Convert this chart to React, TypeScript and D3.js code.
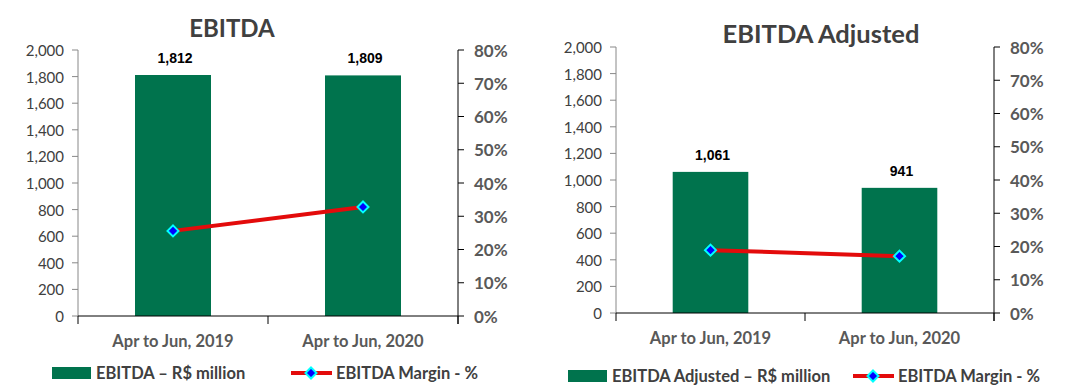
import React from "react";
import * as d3 from "d3";

const categories = ["Apr to Jun, 2019", "Apr to Jun, 2020"];
const ebitdaValues = [1812, 1809];
const ebitdaMargin = [25.6, 32.8];
const ebitdaAdjValues = [1061, 941];
const ebitdaAdjMargin = [18.9, 17.1];
const valueTicks = [0, 200, 400, 600, 800, 1000, 1200, 1400, 1600, 1800, 2000];
const pctTicks = [0, 10, 20, 30, 40, 50, 60, 70, 80];

const GREEN = "#00734D";
const RED = "#E30B0B";
const FONT = "Lato, 'Open Sans', sans-serif";
const NUMFONT = "'Liberation Sans', Arial, sans-serif";

type ChartProps = {
  title: string;
  titleSize: number;
  values: number[];
  margins: number[];
  barLegend: string;
  lineLegend: string;
  x0: number;
  x1: number;
  yTop: number;
  yBottom: number;
  titleX: number;
  titleY: number;
  legendY: number;
  legendBarX: number;
  legendLineX: number;
};

function Chart(p: ChartProps) {
  const xScale = d3
    .scaleBand<string>()
    .domain(categories)
    .range([p.x0, p.x1])
    .paddingInner(0.6)
    .paddingOuter(0.3);
  const yScale = d3.scaleLinear().domain([0, 2000]).range([p.yBottom, p.yTop]);
  const pScale = d3.scaleLinear().domain([0, 80]).range([p.yBottom, p.yTop]);
  const fmt = d3.format(",");
  const bw = xScale.bandwidth();
  const cx = (c: string) => (xScale(c) as number) + bw / 2;
  const line = d3
    .line<number>()
    .x((_, i) => cx(categories[i]))
    .y((d) => pScale(d));
  const step = xScale.step();
  const diamond = (x: number, y: number, r: number) =>
    `M${x},${y - r}L${x + r},${y}L${x},${y + r}L${x - r},${y}Z`;

  return (
    <g>
      <text
        x={p.titleX}
        y={p.titleY}
        textAnchor="middle"
        dominantBaseline="central"
        fontFamily={FONT}
        fontWeight="bold"
        fontSize={p.titleSize}
        fill="#404040"
      >
        {p.title}
      </text>
      {/* left axis */}
      <line x1={p.x0} x2={p.x0} y1={p.yTop} y2={p.yBottom} stroke="#888" strokeWidth={1} />
      {valueTicks.map((t) => (
        <g key={"l" + t}>
          <line x1={p.x0 - 6} x2={p.x0} y1={yScale(t)} y2={yScale(t)} stroke="#888" />
          <text
            x={p.x0 - 14}
            y={yScale(t)}
            textAnchor="end"
            dominantBaseline="central"
            fontFamily={FONT}
            fontSize={15}
            fill="#404040"
          >
            {fmt(t)}
          </text>
        </g>
      ))}
      {/* right axis */}
      <line x1={p.x1} x2={p.x1} y1={p.yTop} y2={p.yBottom + 8} stroke="#000" strokeWidth={1} />
      {pctTicks.map((t) => (
        <g key={"r" + t}>
          <line x1={p.x1} x2={p.x1 + 6} y1={pScale(t)} y2={pScale(t)} stroke="#000" />
          <text
            x={p.x1 + 16}
            y={pScale(t)}
            textAnchor="start"
            dominantBaseline="central"
            fontFamily={FONT}
            fontWeight="bold"
            fontSize={17}
            fill="#595959"
          >
            {t + "%"}
          </text>
        </g>
      ))}
      {/* bars */}
      {p.values.map((v, i) => (
        <rect
          key={"b" + i}
          x={xScale(categories[i])}
          y={yScale(v)}
          width={bw}
          height={yScale(0) - yScale(v)}
          fill={GREEN}
        />
      ))}
      {p.values.map((v, i) => (
        <text
          key={"dl" + i}
          x={cx(categories[i]) + 2}
          y={yScale(v) - 17}
          textAnchor="middle"
          dominantBaseline="central"
          fontFamily={NUMFONT}
          fontWeight="bold"
          fontSize={14}
          fill="#000"
        >
          {fmt(v)}
        </text>
      ))}
      {/* x axis */}
      <line x1={p.x0} x2={p.x1} y1={p.yBottom} y2={p.yBottom} stroke="#000" />
      {[0, 1, 2].map((k) => (
        <line
          key={"xt" + k}
          x1={p.x0 + k * step}
          x2={p.x0 + k * step}
          y1={p.yBottom}
          y2={p.yBottom + 8}
          stroke="#000"
        />
      ))}
      {categories.map((c) => (
        <text
          key={"c" + c}
          x={cx(c)}
          y={p.yBottom + 25}
          textAnchor="middle"
          dominantBaseline="central"
          fontFamily={FONT}
          fontWeight="bold"
          fontSize={16.5}
          fill="#595959"
        >
          {c}
        </text>
      ))}
      {/* line */}
      <path d={line(p.margins) || ""} fill="none" stroke={RED} strokeWidth={4} />
      {p.margins.map((m, i) => (
        <path
          key={"m" + i}
          d={diamond(cx(categories[i]), pScale(m), 5.5)}
          fill="#0000FF"
          stroke="#00FFFF"
          strokeWidth={2}
        />
      ))}
      {/* legend */}
      <rect x={p.legendBarX} y={p.legendY - 6} width={39} height={12} fill={GREEN} />
      <text
        x={p.legendBarX + 44}
        y={p.legendY}
        dominantBaseline="central"
        fontFamily={FONT}
        fontWeight="bold"
        fontSize={16.5}
        fill="#404040"
      >
        {p.barLegend}
      </text>
      <line
        x1={p.legendLineX}
        x2={p.legendLineX + 41}
        y1={p.legendY}
        y2={p.legendY}
        stroke={RED}
        strokeWidth={4}
      />
      <path
        d={diamond(p.legendLineX + 20, p.legendY, 5.5)}
        fill="#0000FF"
        stroke="#00FFFF"
        strokeWidth={2}
      />
      <text
        x={p.legendLineX + 45}
        y={p.legendY}
        dominantBaseline="central"
        fontFamily={FONT}
        fontWeight="bold"
        fontSize={16.5}
        fill="#404040"
      >
        {p.lineLegend}
      </text>
    </g>
  );
}

export default function App() {
  return (
    <div style={{ position: "absolute", left: 0, top: 0 }}>
      <svg width={1084} height={390} style={{ display: "block", background: "#fff" }}>
        <Chart
          title="EBITDA"
          titleSize={24}
          values={ebitdaValues}
          margins={ebitdaMargin}
          barLegend="EBITDA – R$ million"
          lineLegend="EBITDA Margin - %"
          x0={78}
          x1={458}
          yTop={50}
          yBottom={316}
          titleX={232}
          titleY={27}
          legendY={373}
          legendBarX={52}
          legendLineX={291}
        />
        <Chart
          title="EBITDA Adjusted"
          titleSize={25.5}
          values={ebitdaAdjValues}
          margins={ebitdaAdjMargin}
          barLegend="EBITDA Adjusted – R$ million"
          lineLegend="EBITDA Margin - %"
          x0={616}
          x1={994}
          yTop={47}
          yBottom={313}
          titleX={821}
          titleY={33}
          legendY={376}
          legendBarX={568}
          legendLineX={853}
        />
      </svg>
    </div>
  );
}
